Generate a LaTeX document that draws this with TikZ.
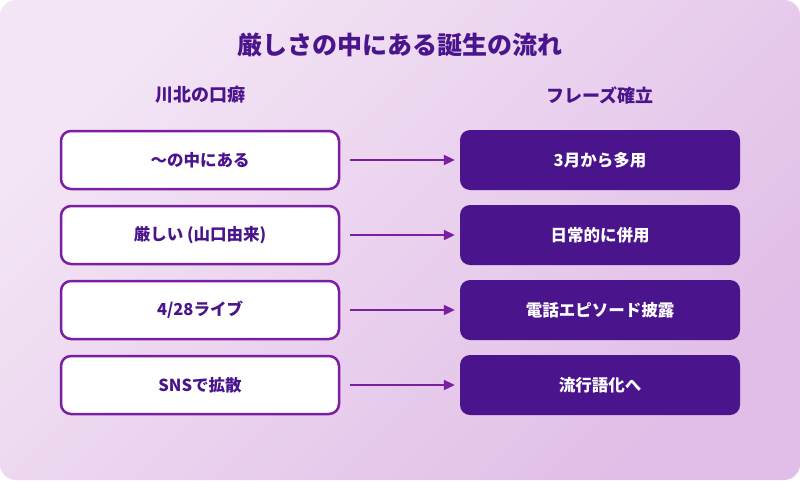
\documentclass[tikz,border=0pt]{standalone}
\usepackage{fontspec}
\setmainfont{Noto Sans CJK JP}
\usetikzlibrary{arrows.meta,positioning}

\definecolor{bgLight}{HTML}{F3E5F5}
\definecolor{bgDark}{HTML}{E1BEE7}
\definecolor{deepPurple}{HTML}{4A148C}
\definecolor{midPurple}{HTML}{7B1FA2}

\begin{document}
\begin{tikzpicture}[x=1pt,y=-1pt,
	habit node/.style={rectangle,draw=midPurple,line width=2.5pt,fill=white,rounded corners=10pt,
		minimum width=278pt,minimum height=58pt,text=deepPurple,font=\bfseries\fontsize{16.5}{19}\selectfont},
	phrase node/.style={rectangle,fill=deepPurple,rounded corners=10pt,
		minimum width=280pt,minimum height=60pt,text=white,font=\bfseries\fontsize{16.5}{19}\selectfont},
	head node/.style={text=deepPurple,font=\bfseries\fontsize{18}{21}\selectfont},
	flow/.style={-{Triangle[length=11pt,width=10pt]},draw=midPurple,line width=2pt,shorten <=10pt,shorten >=5pt}
]

	\useasboundingbox (0,0) rectangle (800,480);
	\shade[rounded corners=16pt,top color=bgLight,bottom color=bgDark,shading angle=45] (0,0) rectangle (800,480);

	\node[text=deepPurple,font=\bfseries\fontsize{25}{29}\selectfont] (title) at (400,45) {厳しさの中にある誕生の流れ};
	\node[head node] (habit) at (200,95) {川北の口癖};
	\node[head node] (phrase) at (600,95) {フレーズ確立};

	\foreach \i/\a/\b in {1/{～の中にある}/{3月から多用},2/{厳しい (山口由来)}/{日常的に併用},3/{4/28ライブ}/{電話エピソード披露},4/{SNSで拡散}/{流行語化へ}} {
		\node[habit node] (l\i) at (200,{85+75*\i}) {\a};
		\node[phrase node] (r\i) at (600,{85+75*\i}) {\b};
		\draw[flow] (l\i) -- (r\i);
	}
\end{tikzpicture}
\end{document}
